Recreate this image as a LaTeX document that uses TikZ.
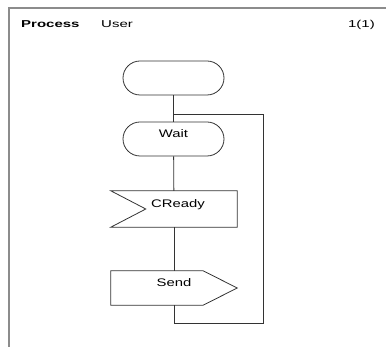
\documentclass[tikz,border=0pt]{standalone}
\usepackage{fontspec}
\setmainfont{Liberation Sans}[FakeStretch=1.35]
\newfontfamily\headfont{Liberation Sans}[FakeStretch=1.5]
\usetikzlibrary{shapes.misc}

\tikzset{
  flow/.style={draw=black!80,line width=0.8pt},
  frame/.style={draw=black!45,line width=1.8pt},
  term/.style={rounded rectangle,flow,minimum width=101pt,minimum height=34pt,inner sep=0pt,
    text height=8pt,text depth=11pt,font=\fontsize{11}{12}\selectfont},
  sigbox/.style={rectangle,draw=none,minimum width=126pt,inner sep=0pt,
    text height=8pt,text depth=11pt,font=\fontsize{11}{12}\selectfont},
  head/.style={anchor=base west,inner sep=0pt,font=\headfont\fontsize{10}{12}\selectfont}
}

\begin{document}
\begin{tikzpicture}[x=1pt,y=-1pt]
\useasboundingbox (0,0) rectangle (386,347);

%frame
\draw[frame] (9,347) -- (9,8) -- (386,8);

%heading
\node[head] (proc) at (21,28) {\bfseries Process};
\node[head] (user) at (101,28) {User};
\node[head,anchor=base east] (page) at (375,28) {1(1)};

%start
\node[term] (start) at (173.5,78) {};

%wait
\node[term] (wait) at (173.5,139) {Wait};

%input CReady
\node[sigbox,minimum height=36pt] (ready) at (174,209) {\hspace{8pt}CReady};
\draw[flow] (ready.north west) -- (ready.north east) -- (ready.south east)
  -- (ready.south west) -- ([xshift=35pt]ready.west) -- cycle;

%output Send
\node[sigbox,minimum height=34pt] (send) at (174,288) {Send\hspace{6pt}};
\draw[flow] (send.north west) -- ([xshift=-34pt]send.north east) -- (send.east)
  -- ([xshift=-34pt]send.south east) -- (send.south west) -- cycle;

%flow lines
\coordinate (join) at (174,114);
\coordinate (loopbot) at (263,323);
\draw[flow] (start) -- (wait);
\draw[flow] (wait) -- (ready);
\draw[flow] (ready) -- (send);
\draw[flow] (send.south) |- (loopbot) |- (join);
\end{tikzpicture}
\end{document}
